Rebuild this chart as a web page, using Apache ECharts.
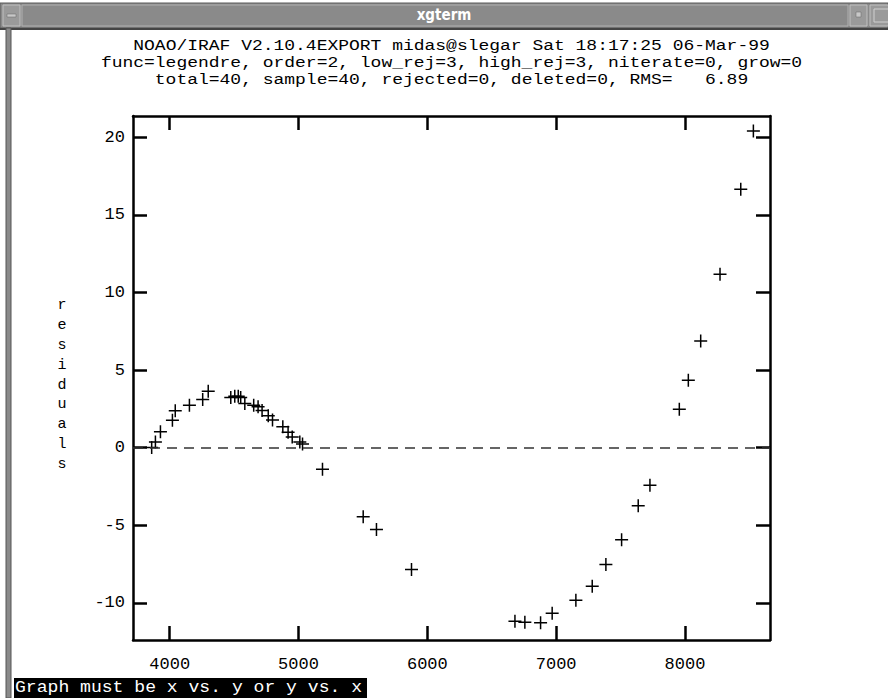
<!DOCTYPE html>
<html>
<head>
<meta charset="utf-8">
<script src="https://cdn.jsdelivr.net/npm/echarts@6/dist/echarts.min.js"></script>
<style>
html,body{margin:0;padding:0;background:#fff;}
#chart{width:888px;height:698px;}
</style>
</head>
<body>
<div id="chart"></div>
<script>
// ---- data ----
const windowTitle = 'xgterm';
const titleLines = [
  'NOAO/IRAF V2.10.4EXPORT midas@slegar Sat 18:17:25 06-Mar-99',
  'func=legendre, order=2, low_rej=3, high_rej=3, niterate=0, grow=0',
  'total=40, sample=40, rejected=0, deleted=0, RMS=   6.89'
];
const yAxisName = 'residuals';
const statusText = 'Graph must be x vs. y or y vs. x';

const xTicks = [4000, 5000, 6000, 7000, 8000];
const yTicks = [-10, -5, 0, 5, 10, 15, 20];

const xValues = [3860,3889,3928,4021,4043,4153,4256,4299,4474,4505,4532,4551,4583,4652,4686,4717,4765,4798,4878,4919,4951,5010,5031,5186,5502,5605,5877,6680,6757,6879,6969,7153,7280,7386,7508,7637,7728,7956,8026,8122,8272,8433,8531];
const residuals = [0.01,0.37,1.02,1.77,2.38,2.73,3.10,3.64,3.23,3.32,3.32,3.23,2.85,2.74,2.63,2.40,2.06,1.79,1.34,1.00,0.68,0.37,0.23,-1.39,-4.46,-5.27,-7.85,-11.19,-11.25,-11.29,-10.68,-9.83,-8.93,-7.53,-5.93,-3.75,-2.42,2.48,4.35,6.88,11.18,16.66,20.41];
const zeroLevel = 0;

// ---- chart ----
const chart = echarts.init(document.getElementById('chart'), null, {renderer: 'svg'});
const points = xValues.map((x, i) => [x, residuals[i]]);

const MONO = '"Liberation Mono", "DejaVu Sans Mono", monospace';
const X_MIN = 3715, X_MAX = 8660, Y_MIN = -12.4, Y_MAX = 21.38;
const crossPath = 'path://M11.5,0H14.5V11.5H26V14.5H14.5V26H11.5V14.5H0V11.5H11.5Z';

function axisCommon(showLabel, customVals) {
  return {
    axisLine: {show: true, onZero: false, lineStyle: {color: '#000', width: 2.5}},
    axisTick: {show: true, inside: true, length: 14, customValues: customVals,
               lineStyle: {color: '#000', width: 2.5}},
    splitLine: {show: false},
    axisLabel: {show: showLabel, customValues: customVals, formatter: v => String(v)}
  };
}

const xBottom = Object.assign(axisCommon(true, xTicks), {
  type: 'value', position: 'bottom', min: X_MIN, max: X_MAX
});
Object.assign(xBottom.axisLabel, {color: '#000', fontFamily: MONO, fontSize: 17, margin: 16});
const xTop = Object.assign(axisCommon(false, xTicks), {
  type: 'value', position: 'top', min: X_MIN, max: X_MAX
});
const yLeft = Object.assign(axisCommon(true, yTicks), {
  type: 'value', position: 'left', min: Y_MIN, max: Y_MAX
});
Object.assign(yLeft.axisLabel, {color: '#000', fontFamily: MONO, fontSize: 17, margin: 8});
const yRight = Object.assign(axisCommon(false, yTicks), {
  type: 'value', position: 'right', min: Y_MIN, max: Y_MAX
});

function monoLine(text, x, y, size, sx, align, fill) {
  return {type: 'text', x: x, y: y, scaleX: sx, silent: true,
          style: {text: text, fill: fill || '#000', font: size + 'px ' + MONO,
                  textAlign: align, textVerticalAlign: 'middle'}};
}

const graphics = [
  // window chrome: title bar
  {type: 'rect', shape: {x: 0, y: 3, width: 888, height: 25}, style: {fill: '#8a8a8a', stroke: '#5a5a5a', lineWidth: 1}, silent: true},
  {type: 'rect', shape: {x: 22, y: 5, width: 826, height: 21}, style: {fill: '#8a8a8a', stroke: '#b0b0b0', lineWidth: 1}, silent: true},
  {type: 'rect', shape: {x: 3, y: 5, width: 17, height: 21}, style: {fill: '#9a9a9a', stroke: '#c0c0c0', lineWidth: 1}, silent: true},
  {type: 'rect', shape: {x: 7, y: 14, width: 9, height: 3}, style: {fill: '#c8c8c8', stroke: '#666', lineWidth: 0.5}, silent: true},
  {type: 'rect', shape: {x: 850, y: 5, width: 17, height: 21}, style: {fill: '#9a9a9a', stroke: '#c0c0c0', lineWidth: 1}, silent: true},
  {type: 'rect', shape: {x: 856, y: 12, width: 5, height: 5}, style: {fill: '#c8c8c8', stroke: '#666', lineWidth: 0.5}, silent: true},
  {type: 'rect', shape: {x: 870, y: 5, width: 20, height: 21}, style: {fill: '#9a9a9a', stroke: '#c0c0c0', lineWidth: 1}, silent: true},
  {type: 'rect', shape: {x: 874, y: 9, width: 16, height: 13}, style: {fill: '#9a9a9a', stroke: '#d0d0d0', lineWidth: 1}, silent: true},
  {type: 'text', x: 444, y: 15, silent: true,
   style: {text: windowTitle, fill: '#fff', font: 'bold 15px "DejaVu Sans Condensed", "DejaVu Sans", sans-serif',
           textAlign: 'center', textVerticalAlign: 'middle'}},
  {type: 'rect', shape: {x: 0, y: 28, width: 888, height: 2}, style: {fill: '#444'}, silent: true},
  // left window border
  {type: 'rect', shape: {x: 6, y: 28, width: 5, height: 670}, style: {fill: '#8a8a8a', stroke: '#555', lineWidth: 1}, silent: true},
  // title lines
  monoLine(titleLines[0], 451.5, 46, 15, 1.2, 'center'),
  monoLine(titleLines[1], 451.5, 63, 15, 1.2, 'center'),
  monoLine(titleLines[2], 451.5, 80, 15, 1.2, 'center'),
  // vertical y-axis name
  {type: 'text', x: 62, y: 296, silent: true,
   style: {text: yAxisName.split('').join('\n'), fill: '#000', font: '15px ' + MONO,
           lineHeight: 19.8, textAlign: 'center', textVerticalAlign: 'top'}},
  // status line
  {type: 'rect', shape: {x: 14, y: 678, width: 353, height: 20}, style: {fill: '#000'}, silent: true},
  monoLine(statusText, 15, 688, 16, 1.13, 'left', '#fff')
];

chart.setOption({
  animation: false,
  backgroundColor: '#fff',
  grid: {left: 133, right: 118, top: 116, bottom: 58, containLabel: false},
  xAxis: [xBottom, xTop],
  yAxis: [yLeft, yRight],
  graphic: graphics,
  series: [{
    type: 'scatter',
    xAxisIndex: 0, yAxisIndex: 0,
    data: points,
    symbol: crossPath,
    symbolSize: 13,
    itemStyle: {color: '#000', opacity: 1},
    silent: true,
    markLine: {
      silent: true,
      symbol: ['none', 'none'],
      label: {show: false},
      lineStyle: {color: '#333', width: 1.6, type: [10, 7]},
      data: [{yAxis: zeroLevel}]
    }
  }]
});
</script>
</body>
</html>
